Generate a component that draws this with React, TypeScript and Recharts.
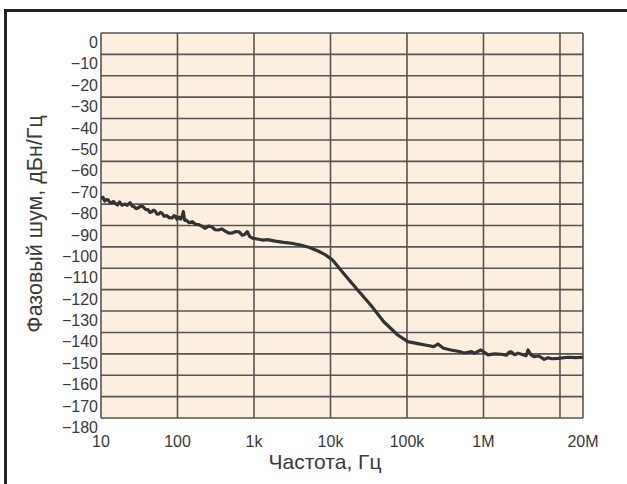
import { LineChart, Line, XAxis, YAxis, CartesianGrid } from "recharts";

// frequency, Hz (log scale) and phase noise, dBc/Hz
const FREQ = [
  10, 10.6, 11.2, 11.8, 12.4, 13.1, 13.8, 14.5, 15.3, 16.4, 17.5, 18.8, 20.6, 22, 24, 25.5, 27, 28.7,
  30.5, 32.7, 35, 38, 41.3, 43.5, 46, 48.5, 51, 54, 57, 60, 63, 67, 72, 78, 85.3, 90, 95, 98, 102,
  106, 110, 115, 119, 124, 130, 142, 156, 172, 190, 210, 231, 255, 280, 310, 341, 380, 420, 470, 521,
  580, 640, 700, 760, 790, 819, 880, 953, 1100, 1290, 1500, 1900, 2430, 3100, 4050, 5200, 6770,
  8500, 10650, 14860, 22650, 33560, 49700, 75800, 102400, 138600, 180000, 224000, 253600, 300000,
  375000, 480000, 560000, 627000, 700000, 760000, 850000, 927000, 1146000, 1400000, 1695000,
  2000000, 2150000, 2290000, 2550000, 2830000, 3300000, 3600000, 3830000, 4200000, 4590000,
  5300000, 6210000, 7000000, 7800000, 9470000, 12800000, 16000000, 20000000,
];

const NOISE = [
  -77.5, -76.8, -78.6, -77.9, -78.0, -79.2, -79.4, -78.7, -79.6, -80.4, -79.0, -80.5, -80.0, -80.6,
  -79.3, -80.9, -81.2, -82.1, -81.8, -81.1, -81.0, -82.4, -82.7, -83.9, -83.6, -82.8, -83.2, -84.7,
  -84.6, -83.9, -84.3, -85.7, -85.4, -86.3, -86.5, -85.4, -85.8, -87.1, -86.5, -86.1, -87.0, -85.8,
  -83.5, -87.6, -87.5, -88.7, -88.2, -89.4, -89.6, -90.4, -91.3, -90.3, -90.6, -92.0, -92.1, -91.6,
  -92.6, -93.6, -93.5, -92.8, -93.0, -94.5, -94.2, -93.3, -92.9, -95.2, -95.9, -96.3, -96.8, -96.6,
  -97.3, -97.9, -98.3, -99.1, -100.2, -101.8, -103.6, -106.1, -112.4, -120.2, -127.2, -135.0, -141.2,
  -144.3, -145.2, -146.0, -146.6, -145.4, -147.4, -148.2, -148.9, -149.6, -149.3, -149.0, -149.8,
  -148.8, -148.2, -150.5, -150.0, -150.2, -150.6, -149.3, -149.0, -150.4, -149.7, -150.4, -150.9,
  -148.2, -150.6, -151.3, -151.0, -152.6, -151.8, -152.3, -152.1, -151.6, -151.8, -151.6,
];

const X_TICKS = [10, 100, 1000, 10000, 100000, 1000000, 10000000, 20000000];
const X_LABELS: Record<number, string> = {
  10: "10",
  100: "100",
  1000: "1k",
  10000: "10k",
  100000: "100k",
  1000000: "1M",
  10000000: "",
  20000000: "20M",
};
const Y_TICKS = [0, -10, -20, -30, -40, -50, -60, -70, -80, -90, -100, -110, -120, -130, -140, -150, -160, -170, -180];

const FONT = "'Liberation Sans', Arial, Helvetica, sans-serif";
const TEXT = "#3a3a3a";

const data = FREQ.map((f, i) => ({ f, v: NOISE[i] }));

const YTick = ({ y, payload }: any) => (
  <text x={98} y={y + 9.5} textAnchor="end" dominantBaseline="central" fontSize={16} fontFamily={FONT} fill={TEXT}>
    {payload.value === 0 ? "0" : "\u2212" + Math.abs(payload.value)}
  </text>
);

const XTick = ({ x, payload }: any) => (
  <text x={x} y={441} textAnchor="middle" dominantBaseline="central" fontSize={16} fontFamily={FONT} fill={TEXT}>
    {X_LABELS[payload.value]}
  </text>
);

export default function App() {
  return (
    <div style={{ position: "absolute", left: 0, top: 0, width: 627, height: 484, background: "#fff" }}>
      <div style={{ position: "absolute", left: 4, top: 9, width: 623, height: 3, background: "#222" }} />
      <div style={{ position: "absolute", left: 4, top: 9, width: 3, height: 475, background: "#222" }} />
      <div style={{ position: "absolute", left: 0, top: 0 }}>
        <LineChart width={627} height={484} data={data} margin={{ top: 33, right: 44, bottom: 26, left: 0 }}>
          <CartesianGrid fill="#fdefdf" stroke="#555" strokeWidth={1.6} />
          <XAxis
            dataKey="f"
            type="number"
            scale="log"
            domain={[10, 20000000]}
            ticks={X_TICKS}
            allowDataOverflow
            axisLine={false}
            tickLine={false}
            height={40}
            tick={<XTick />}
            interval={0}
            label={{
              content: () => (
                <text x={325} y={461} textAnchor="middle" dominantBaseline="central" fontSize={21} fontFamily={FONT} fill={TEXT}>
                  Частота, Гц
                </text>
              ),
            }}
          />
          <YAxis
            type="number"
            domain={[-180, 0]}
            ticks={Y_TICKS}
            interval={0}
            width={101}
            axisLine={false}
            tickLine={false}
            tick={<YTick />}
            label={{
              content: () => (
                <text
                  x={35}
                  y={224}
                  transform="rotate(-90 35 224)"
                  textAnchor="middle"
                  dominantBaseline="central"
                  fontSize={21.5}
                  fontFamily={FONT}
                  fill={TEXT}
                >
                  Фазовый шум, дБн/Гц
                </text>
              ),
            }}
          />
          <Line type="linear" dataKey="v" stroke="#333" strokeWidth={3.2} strokeLinejoin="round" dot={false} isAnimationActive={false} />
        </LineChart>
      </div>
    </div>
  );
}
